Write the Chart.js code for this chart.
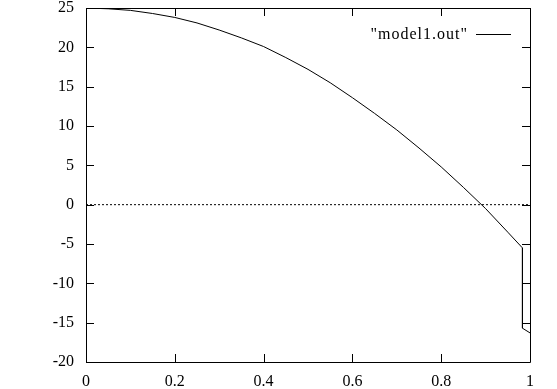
<!DOCTYPE html>
<html>
<head>
<meta charset="utf-8">
<script src="https://cdn.jsdelivr.net/npm/chart.js@4"></script>
<style>
  html, body { margin: 0; padding: 0; background: #fff; }
  #box { width: 557px; height: 389px; }
</style>
</head>
<body>
<div id="box"><canvas id="plot"></canvas></div>
<script>
// dados
const xValues = [0, 0.05, 0.1, 0.15, 0.2, 0.25, 0.3, 0.35, 0.4, 0.45, 0.5, 0.55, 0.6, 0.65, 0.7, 0.75, 0.8, 0.85, 0.9, 0.95, 0.983, 0.983, 1.0];
const yValues = [25.0, 24.9, 24.7, 24.3, 23.8, 23.1, 22.2, 21.2, 20.1, 18.7, 17.2, 15.5, 13.6, 11.6, 9.5, 7.2, 4.8, 2.2, -0.5, -3.5, -5.5, -15.7, -16.3];
const zeroX = [0, 1];
const zeroY = [0, 0];
const xTicks = [0, 0.2, 0.4, 0.6, 0.8, 1];
const yTicks = [-20, -15, -10, -5, 0, 5, 10, 15, 20, 25];
const seriesLabel = '"model1.out"';

const FONT = "'Liberation Serif', 'DejaVu Serif', serif";

// moldura e marcas para dentro, estilo gnuplot
const frameTicks = {
    id: 'frameTicks',
    afterDraw(chart) {
        const c = chart.ctx, a = chart.chartArea;
        const sx = chart.scales.x, sy = chart.scales.y;
        const len = 8;
        c.save();
        c.strokeStyle = '#000';
        c.lineWidth = 1;
        c.beginPath();
        c.rect(Math.round(a.left) + 0.5, Math.round(a.top) + 0.5, Math.round(a.right - a.left), Math.round(a.bottom - a.top));
        yTicks.forEach(v => {
            const y = Math.round(sy.getPixelForValue(v)) + 0.5;
            c.moveTo(a.left, y); c.lineTo(a.left + len, y);
            c.moveTo(a.right, y); c.lineTo(a.right - len, y);
        });
        xTicks.forEach(v => {
            const x = Math.round(sx.getPixelForValue(v)) + 0.5;
            c.moveTo(x, a.bottom); c.lineTo(x, a.bottom - len);
            c.moveTo(x, a.top); c.lineTo(x, a.top + len);
        });
        c.stroke();

        // legenda dentro do gráfico
        c.font = '16px ' + FONT;
        c.letterSpacing = '1px';
        c.fillStyle = '#000';
        c.textAlign = 'right';
        c.textBaseline = 'alphabetic';
        c.fillText(seriesLabel, 468, 39);
        c.beginPath();
        c.moveTo(476, 34.5); c.lineTo(511, 34.5);
        c.stroke();
        c.restore();
    }
};

new Chart(document.getElementById('plot'), {
    type: 'line',
    data: {
        datasets: [{
            label: seriesLabel,
            data: xValues.map((x, i) => ({ x: x, y: yValues[i] })),
            borderColor: '#000',
            borderWidth: 1,
            pointRadius: 0,
            tension: 0
        }, {
            label: 'zero',
            data: zeroX.map((x, i) => ({ x: x, y: zeroY[i] })),
            borderColor: '#000',
            borderWidth: 1,
            borderDash: [2, 2],
            pointRadius: 0
        }]
    },
    options: {
        responsive: true,
        maintainAspectRatio: false,
        animation: false,
        layout: { padding: { top: 8, right: 27, left: 0, bottom: 0 } },
        plugins: {
            legend: { display: false },
            tooltip: { enabled: false }
        },
        scales: {
            x: {
                type: 'linear',
                min: 0,
                max: 1,
                afterBuildTicks: s => { s.ticks = xTicks.map(v => ({ value: v })); },
                afterFit: s => { s.height = 27; s.paddingLeft = 0; s.paddingRight = 0; },
                grid: { display: false, drawTicks: false },
                border: { display: false },
                ticks: {
                    padding: 10,
                    color: '#000',
                    font: { family: FONT, size: 16 },
                    maxRotation: 0,
                    callback: v => String(v)
                }
            },
            y: {
                min: -20,
                max: 25,
                afterBuildTicks: s => { s.ticks = yTicks.map(v => ({ value: v })); },
                afterFit: s => { s.width = 86; s.paddingTop = 0; s.paddingBottom = 0; },
                grid: { display: false, drawTicks: false },
                border: { display: false },
                ticks: {
                    padding: 12,
                    color: '#000',
                    font: { family: FONT, size: 16 },
                    callback: v => String(v)
                }
            }
        }
    },
    plugins: [frameTicks]
});
</script>
</body>
</html>
